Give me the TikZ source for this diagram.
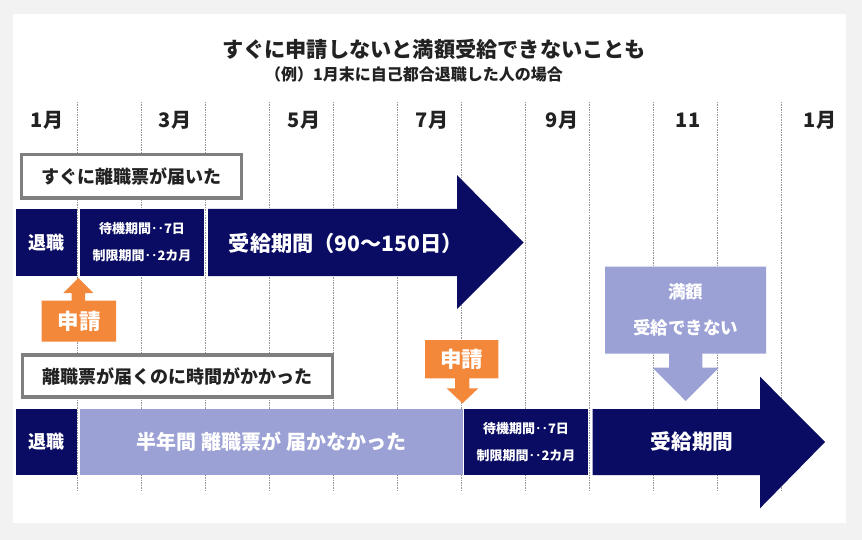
\documentclass[tikz,border=0pt]{standalone}
\usepackage{fontspec}
\setmainfont{Noto Sans CJK JP}
\definecolor{navy}{RGB}{10,12,100}
\definecolor{lav}{RGB}{155,161,213}
\definecolor{orng}{RGB}{244,136,58}
\definecolor{panelbg}{RGB}{242,242,242}
\definecolor{grayedge}{RGB}{127,127,127}
\definecolor{txtdark}{RGB}{34,34,34}
\definecolor{gridline}{RGB}{150,150,150}
\begin{document}
\begin{tikzpicture}[x=1pt,y=-1pt,
  every node/.style={inner sep=0pt,outer sep=0pt},
  navybox/.style={fill=navy,draw=none,text=white,font=\bfseries\fontsize{18}{20}\selectfont},
  lavbox/.style={fill=lav,draw=none,text=white,font=\bfseries\fontsize{20}{22}\selectfont},
  waitbox/.style={fill=navy,draw=none,text=white,align=center,font=\bfseries\fontsize{13}{27}\selectfont},
  labelbox/.style={fill=white,draw=grayedge,line width=3.2pt,text=txtdark,font=\bfseries\fontsize{18}{20}\selectfont},
  monthlbl/.style={text=txtdark,font=\bfseries\fontsize{20}{22}\selectfont},
  wtext/.style={text=white,font=\bfseries\fontsize{#1}{#1}\selectfont},
  grid/.style={draw=gridline,line width=0.6pt,dash pattern=on 1.5pt off 1pt}
]
\useasboundingbox (0,0) rectangle (862,540);
\fill[panelbg] (0,0) rectangle (862,540);
\fill[white] (13,14) rectangle (846,523);

% title
\node[text=txtdark,font=\bfseries\fontsize{21.2}{23}\selectfont] (title) at (434,49) {すぐに申請しないと満額受給できないことも};
\node[text=txtdark,font=\bfseries\fontsize{16}{18}\selectfont] (subtitle) at (414,74.5) {（例）1月末に自己都合退職した人の場合};

% grid lines
\foreach \i in {0,...,11} {
  \coordinate (gt\i) at (77.7+64*\i,102);
  \coordinate (gb\i) at (77.7+64*\i,490);
  \draw[grid] (gt\i) -- (gb\i);
}

% months
\node[monthlbl] (m1) at (47,120) {1月};
\node[monthlbl] (m3) at (175,120) {3月};
\node[monthlbl] (m5) at (304,120) {5月};
\node[monthlbl] (m7) at (432,120) {7月};
\node[monthlbl] (m9) at (562,120) {9月};
\node[monthlbl] (m11) at (688,120) {11};
\node[monthlbl] (m13) at (820,120) {1月};

% ---------- row 1 ----------
\node[labelbox,minimum width=220pt,minimum height=43.5pt] (lbl1) at (131.5,176.3) {すぐに離職票が届いた};
\node[navybox,minimum width=60.5pt,minimum height=67pt] (quit1) at (46.3,242.5) {退職};
\node[waitbox,minimum width=124pt,minimum height=67pt] (wait1) at (142,242.5) {待機期間‥7日\\制限期間‥2カ月};
\fill[navy] (208,209) -- (457,209) -- (457,175) -- (523.5,242.5) -- (457,309) -- (457,276) -- (208,276) -- cycle;
\node[wtext=21.2] (pay1) at (346,243.5) {受給期間（90〜150日）};

% orange up callout
\fill[orng] (78.3,278) -- (93.3,293) -- (85,293) -- (85,300.7) -- (116,300.7) -- (116,341.7)
  -- (41.7,341.7) -- (41.7,300.7) -- (71.7,300.7) -- (71.7,293) -- (63.3,293) -- cycle;
\node[wtext=21.5] (apply1) at (79,321) {申請};

% ---------- row 2 ----------
\node[labelbox,minimum width=310pt,minimum height=42pt] (lbl2) at (177.8,376) {離職票が届くのに時間がかかった};
\node[navybox,minimum width=60.7pt,minimum height=66pt] (quit2) at (46.3,442) {退職};
\node[lavbox,minimum width=383pt,minimum height=66pt] (late) at (271.5,442) {半年間 離職票が 届かなかった};
\node[waitbox,minimum width=124pt,minimum height=66pt] (wait2) at (526,442) {待機期間‥7日\\制限期間‥2カ月};
\fill[navy] (592.7,409) -- (760,409) -- (760,376.7) -- (825,442) -- (760,508.3) -- (760,475) -- (592.7,475) -- cycle;
\node[wtext=20.7] (pay2) at (692,442) {受給期間};

% orange down callout
\fill[orng] (425,340) -- (498.3,340) -- (498.3,378.3) -- (469.3,378.3) -- (469.3,388.3) -- (478.3,388.3)
  -- (462.5,403.3) -- (446.7,388.3) -- (455,388.3) -- (455,378.3) -- (425,378.3) -- cycle;
\node[wtext=21.5] (apply2) at (461.7,359) {申請};

% lavender down callout
\fill[lav] (605,266.7) -- (766,266.7) -- (766,353.5) -- (702.3,353.5) -- (702.3,367.7) -- (719,367.7)
  -- (685.7,401) -- (652.7,367.7) -- (669,367.7) -- (669,353.5) -- (605,353.5) -- cycle;
\node[wtext=17.5] (full1) at (685.7,292) {満額};
\node[wtext=17.5] (full2) at (685.7,327.5) {受給できない};
\end{tikzpicture}
\end{document}
